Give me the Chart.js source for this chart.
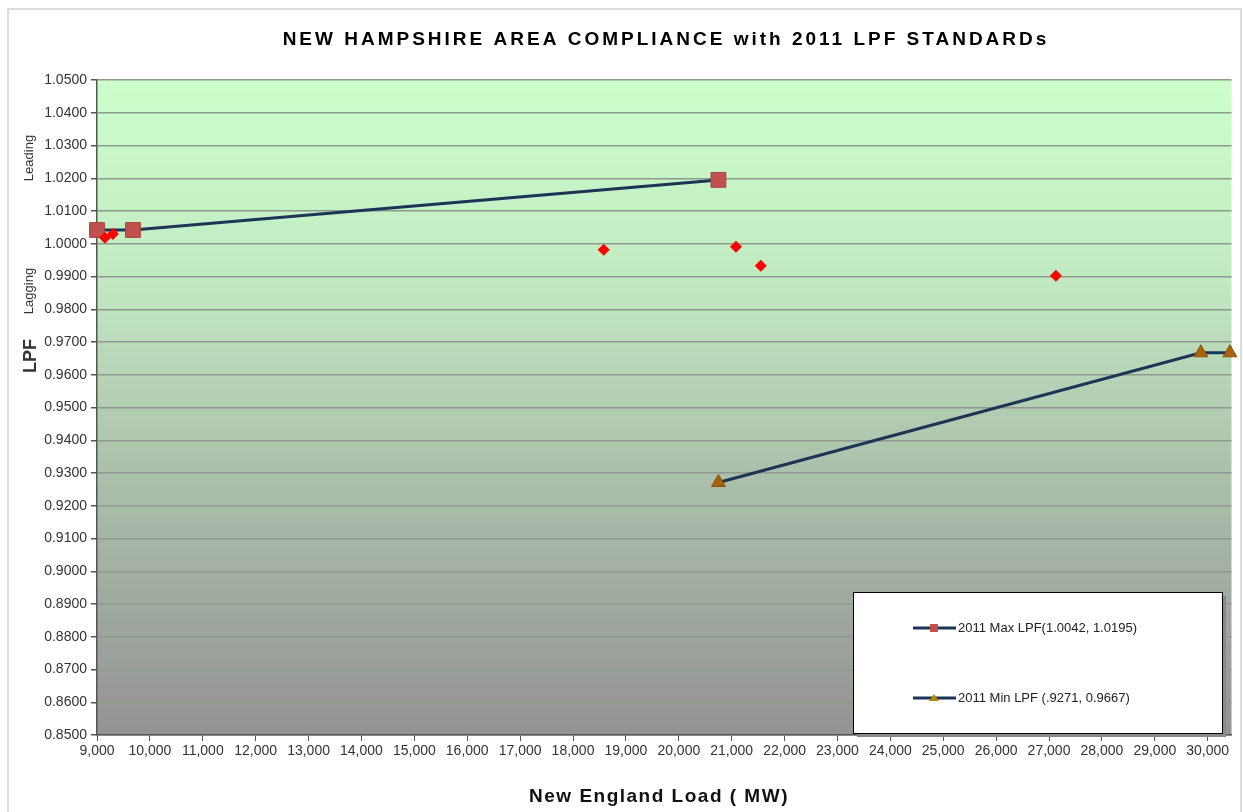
<!DOCTYPE html>
<html>
<head>
<meta charset="utf-8">
<script src="https://cdn.jsdelivr.net/npm/chart.js@4"></script>
<style>
  html, body { margin: 0; padding: 0; background: #fff; }
  #wrap { width: 1243px; height: 812px; position: relative; }
</style>
</head>
<body>
<div id="wrap"><canvas id="lpfChart" width="1243" height="812"></canvas></div>
<script>
// data
const maxLoad = [9000, 9680, 20750];
const maxLpf = [1.0042, 1.0042, 1.0195];
const minLoad = [20750, 29870, 30420];
const minLpf = [0.9271, 0.9667, 0.9667];
const obsLoad = [9150, 9300, 18580, 21080, 21550, 27130];
const obsLpf = [1.0018, 1.0030, 0.9982, 0.9991, 0.9933, 0.9902];
const xTickValues = [9000, 10000, 11000, 12000, 13000, 14000, 15000, 16000, 17000, 18000, 19000,
  20000, 21000, 22000, 23000, 24000, 25000, 26000, 27000, 28000, 29000, 30000];
const legendLabels = ['2011 Max LPF(1.0042, 1.0195)', '2011 Min LPF (.9271, 0.9667)'];
const chartTitle = 'NEW HAMPSHIRE AREA COMPLIANCE with 2011 LPF STANDARDs';
const xTitle = 'New England Load ( MW)';

const toPts = (xs, ys) => xs.map((x, i) => ({ x: x, y: ys[i] }));

const FONT = '"Liberation Sans", Arial, sans-serif';
const LINE = '#1c3455';

// gradient background, frame, titles, side labels, boxed legend
const decor = {
  id: 'decor',
  beforeDraw(chart) {
    const { ctx, chartArea: a } = chart;
    ctx.save();
    ctx.fillStyle = '#fff';
    ctx.fillRect(0, 0, chart.width, chart.height);
    ctx.strokeStyle = '#dcdcdc';
    ctx.lineWidth = 2;
    ctx.strokeRect(8, 9, chart.width - 10, chart.height);
    const g = ctx.createLinearGradient(0, a.top, 0, a.bottom);
    g.addColorStop(0, '#ccffcc');
    g.addColorStop(0.3, '#c2eac2');
    g.addColorStop(0.55, '#afc6af');
    g.addColorStop(1, '#939393');
    ctx.fillStyle = g;
    ctx.fillRect(a.left, a.top, a.right - a.left, a.bottom - a.top);
    ctx.restore();
  },
  afterDraw(chart) {
    const { ctx } = chart;
    ctx.save();
    ctx.textAlign = 'center';
    ctx.textBaseline = 'middle';
    ctx.fillStyle = '#000';
    ctx.font = 'bold 19px ' + FONT;
    ctx.letterSpacing = '3px';
    ctx.fillText(chartTitle, 666, 40);
    ctx.fillStyle = '#111';
    ctx.font = 'bold 19px ' + FONT;
    ctx.letterSpacing = '1.5px';
    ctx.fillText(xTitle, 659, 797);
    ctx.letterSpacing = '0px';

    const side = (txt, x, y, font) => {
      ctx.save();
      ctx.translate(x, y);
      ctx.rotate(-Math.PI / 2);
      ctx.font = font;
      ctx.textAlign = 'center';
      ctx.textBaseline = 'middle';
      ctx.fillStyle = '#333';
      ctx.fillText(txt, 0, 0);
      ctx.restore();
    };
    side('Leading', 29, 158, '13px ' + FONT);
    side('Lagging', 29, 291, '13px ' + FONT);
    side('LPF', 31, 356, 'bold 18px ' + FONT);

    // legend box
    const bx = 853, by = 592, bw = 369, bh = 141;
    ctx.fillStyle = '#8a8a8a';
    ctx.fillRect(bx + 4, by + 4, bw, bh);
    ctx.fillStyle = '#fff';
    ctx.fillRect(bx, by, bw, bh);
    ctx.strokeStyle = '#000';
    ctx.lineWidth = 1;
    ctx.strokeRect(bx + 0.5, by + 0.5, bw, bh);

    const entries = [
      { y: 628, label: legendLabels[0], kind: 'sq' },
      { y: 698, label: legendLabels[1], kind: 'tri' }
    ];
    entries.forEach(e => {
      ctx.strokeStyle = LINE;
      ctx.lineWidth = 3;
      ctx.beginPath();
      ctx.moveTo(913, e.y);
      ctx.lineTo(956, e.y);
      ctx.stroke();
      if (e.kind === 'sq') {
        ctx.fillStyle = '#c0504d';
        ctx.fillRect(930, e.y - 4, 8, 8);
      } else {
        ctx.fillStyle = '#b8860b';
        ctx.beginPath();
        ctx.moveTo(934, e.y - 4);
        ctx.lineTo(939, e.y + 3);
        ctx.lineTo(929, e.y + 3);
        ctx.closePath();
        ctx.fill();
      }
      ctx.fillStyle = '#222';
      ctx.font = '13px ' + FONT;
      ctx.textAlign = 'left';
      ctx.textBaseline = 'middle';
      ctx.fillText(e.label, 958, e.y);
    });
    ctx.restore();
  }
};

new Chart(document.getElementById('lpfChart'), {
  type: 'scatter',
  data: {
    datasets: [
      {
        label: legendLabels[0],
        data: toPts(maxLoad, maxLpf),
        showLine: true,
        clip: false,
        borderColor: LINE,
        borderWidth: 3,
        pointStyle: 'rect',
        pointRadius: 10.5,
        pointBackgroundColor: '#c0504d',
        pointBorderColor: '#a84642',
        pointBorderWidth: 1,
        order: 2
      },
      {
        label: legendLabels[1],
        data: toPts(minLoad, minLpf),
        showLine: true,
        clip: false,
        borderColor: LINE,
        borderWidth: 3,
        pointStyle: 'triangle',
        pointRadius: 8,
        pointBackgroundColor: '#a8620a',
        pointBorderColor: '#8a5008',
        pointBorderWidth: 1,
        order: 1
      },
      {
        label: 'LPF',
        data: toPts(obsLoad, obsLpf),
        showLine: false,
        clip: false,
        pointStyle: 'rectRot',
        pointRadius: 6,
        pointBackgroundColor: '#ff0000',
        pointBorderColor: '#ff0000',
        pointBorderWidth: 0,
        order: 0
      }
    ]
  },
  options: {
    responsive: false,
    animation: false,
    layout: { padding: { left: 0, right: 5, top: 80, bottom: 0 } },
    plugins: {
      legend: { display: false },
      tooltip: { enabled: false },
      title: { display: false }
    },
    scales: {
      x: {
        type: 'linear',
        min: 9000,
        max: 30450,
        afterFit: s => { s.height = 77; },
        afterBuildTicks: s => { s.ticks = xTickValues.map(v => ({ value: v })); },
        ticks: {
          maxRotation: 0,
          autoSkip: false,
          color: '#333',
          padding: 2,
          font: { family: FONT, size: 14 },
          callback: v => v.toLocaleString('en-US')
        },
        grid: { drawOnChartArea: false, drawTicks: true, tickLength: 6, color: '#555' },
        border: { color: '#555', width: 1.5 }
      },
      y: {
        min: 0.85,
        max: 1.05,
        afterFit: s => { s.width = 97; },
        ticks: {
          stepSize: 0.01,
          maxTicksLimit: 50,
          autoSkip: false,
          color: '#333',
          padding: 4,
          font: { family: FONT, size: 14 },
          callback: v => v.toFixed(4)
        },
        grid: { color: '#8e9a8e', lineWidth: 1.5, tickLength: 6, tickColor: '#555' },
        border: { color: '#555', width: 1.5 }
      }
    }
  },
  plugins: [decor]
});
</script>
</body>
</html>
